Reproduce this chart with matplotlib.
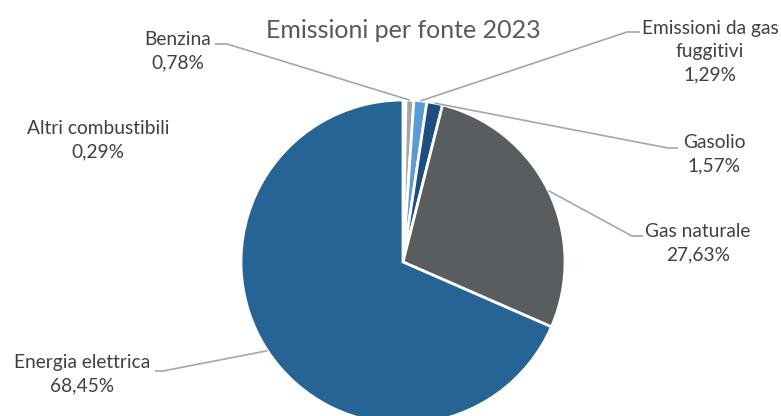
import numpy as np
from matplotlib import pyplot as plt

# dati: emissioni per fonte 2023 (%)
fonti = ['Altri combustibili', 'Benzina', 'Emissioni da gas\nfuggitivi', 'Gasolio',
         'Gas naturale', 'Energia elettrica']
quote = [0.29, 0.78, 1.29, 1.57, 27.63, 68.45]
colori = ['#c8c8c8', '#a5a5a5', '#5b9bd5', '#1d4e7e', '#595d5f', '#276496']

# posizione etichette (pixel) e gomito della linea guida
pos_testo = [(98, 140), (178, 51), (710, 52), (714, 154), (698, 243), (82, 374)]
gomiti = [None, ((215, 44), (227, 44)), ((640, 32), (627, 32)), ((678, 148), (668, 148)),
          ((643, 236), (632, 236)), ((155, 371), (163, 371))]

W, H = 781, 416
cx, cy, r = 403, 262, 162

plt.rcParams['font.family'] = ['Lato', 'DejaVu Sans']
fig = plt.figure(figsize=(W / 100, H / 100), dpi=100)
ax = fig.add_axes([0, 0, 1, 1])

wedges, _ = ax.pie(quote, colors=colori, startangle=90, counterclock=False,
                   center=(cx, H - cy), radius=r,
                   wedgeprops=dict(edgecolor='white', linewidth=2))
ax.set_xlim(0, W)
ax.set_ylim(0, H)
ax.set_aspect('equal')
ax.set_axis_off()

for w, nome, q, (tx, ty), g in zip(wedges, fonti, quote, pos_testo, gomiti):
    etichetta = '%s\n%s%%' % (nome, ('%.2f' % q).replace('.', ','))
    ax.text(tx, H - ty, etichetta, ha='center', va='center', fontsize=13.8,
            color='#404040', linespacing=1.45)
    if g is None:
        continue
    mid = np.deg2rad((w.theta1 + w.theta2) / 2)
    ax0 = cx + r * np.cos(mid)
    ay0 = (H - cy) + r * np.sin(mid)
    xs = [g[0][0], g[1][0], ax0]
    ys = [H - g[0][1], H - g[1][1], ay0]
    ax.plot(xs, ys, color='#a6a6a6', lw=1.2, solid_capstyle='butt')

ax.text(403, H - 30, 'Emissioni per fonte 2023', ha='center', va='center',
        fontsize=18, color='#595959')

plt.savefig('out.png', dpi=100)
